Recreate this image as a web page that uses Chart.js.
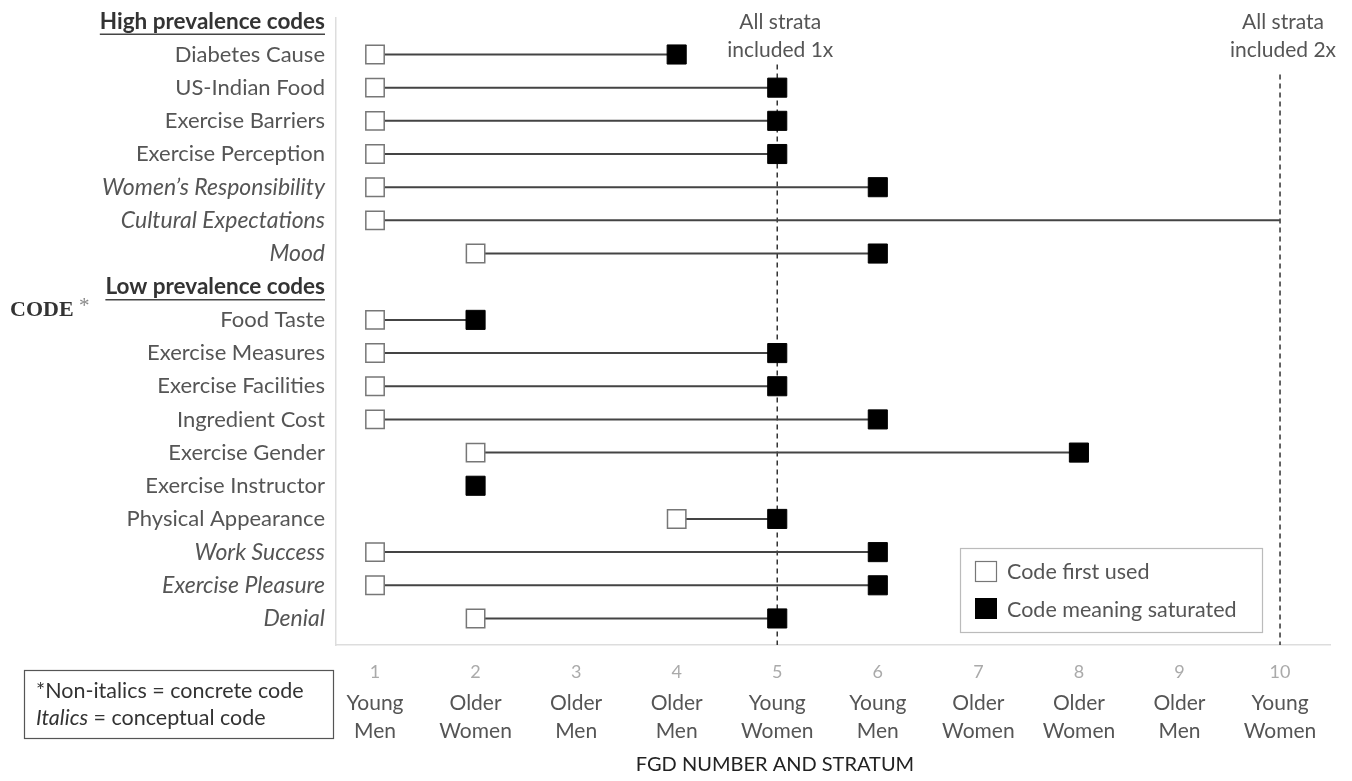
<!DOCTYPE html>
<html>
<head>
<meta charset="utf-8">
<script src="https://cdn.jsdelivr.net/npm/chart.js@4/dist/chart.umd.min.js"></script>
<style>
  body { margin: 0; background: #fff; }
  #wrap { width: 1352px; height: 781px; position: relative; }
</style>
</head>
<body>
<div id="wrap"><canvas id="codeChart"></canvas></div>
<script>
// rows top to bottom (index = y value)
const codes = [
  "High prevalence codes",
  "Diabetes Cause", "US-Indian Food", "Exercise Barriers", "Exercise Perception",
  "Women\u2019s Responsibility", "Cultural Expectations", "Mood",
  "Low prevalence codes",
  "Food Taste", "Exercise Measures", "Exercise Facilities", "Ingredient Cost",
  "Exercise Gender", "Exercise Instructor", "Physical Appearance",
  "Work Success", "Exercise Pleasure", "Denial"
];
const headers = ["High prevalence codes", "Low prevalence codes"];
const conceptual = ["Women\u2019s Responsibility", "Cultural Expectations", "Mood", "Work Success", "Exercise Pleasure", "Denial"];

// FGD where code first used / where meaning saturated (null = none)
const firstUsed = [null, 1, 1, 1, 1, 1, 1, 2, null, 1, 1, 1, 1, 2, null, 4, 1, 1, 2];
const saturated = [null, 4, 5, 5, 5, 6, null, 6, null, 2, 5, 5, 6, 8, 2, 5, 6, 6, 5];

const fgdNumbers = [1, 2, 3, 4, 5, 6, 7, 8, 9, 10];
const strata = [
  ["Young", "Men"], ["Older", "Women"], ["Older", "Men"], ["Older", "Men"], ["Young", "Women"],
  ["Young", "Men"], ["Older", "Women"], ["Older", "Women"], ["Older", "Men"], ["Young", "Women"]
];
const lastFgd = 10;
const refLines = [
  { x: 5, from: 1.3, text: ["All strata", "included 1x"] },
  { x: 10, from: 1.6, text: ["All strata", "included 2x"] }
];

const FONT = "Lato, 'Open Sans', sans-serif";

const firstPts = [], satPts = [], segPts = [];
codes.forEach((c, i) => {
  if (firstUsed[i] != null) {
    firstPts.push({ x: firstUsed[i], y: i });
    segPts.push({ x: firstUsed[i], y: i }, { x: saturated[i] ?? lastFgd, y: i }, { x: NaN, y: NaN });
  }
  if (saturated[i] != null) satPts.push({ x: saturated[i], y: i });
});

const refData = [];
refLines.forEach(r => refData.push({ x: r.x, y: r.from }, { x: r.x, y: 18.8 }, { x: NaN, y: NaN }));

function labelFont(c) {
  const name = c && c.tick ? codes[c.tick.value] : "";
  if (headers.includes(name)) return { family: FONT, size: 22.5, weight: "bold" };
  if (conceptual.includes(name)) return { family: FONT, size: 23, style: "italic" };
  return { family: FONT, size: 22 };
}

const extras = {
  id: "extras",
  afterDraw(chart) {
    const ctx = chart.ctx;
    const xs = chart.scales.x, ys = chart.scales.y;
    ctx.save();
    ctx.textBaseline = "middle";

    // underline headers
    ctx.font = "bold 22.5px " + FONT;
    ctx.strokeStyle = "#444";
    ctx.lineWidth = 1.4;
    headers.forEach(h => {
      const y = ys.getPixelForValue(codes.indexOf(h)) + 13;
      const right = chart.chartArea.left - 11;
      const w = ctx.measureText(h).width;
      ctx.beginPath(); ctx.moveTo(right - w, y); ctx.lineTo(right, y); ctx.stroke();
    });

    // strata under x ticks
    ctx.fillStyle = "#555";
    ctx.font = "21px " + FONT;
    ctx.textAlign = "center";
    fgdNumbers.forEach((n, k) => {
      const px = xs.getPixelForValue(n);
      ctx.fillText(strata[k][0], px, 703);
      ctx.fillText(strata[k][1], px, 731);
    });

    // axis title
    ctx.fillStyle = "#222";
    ctx.font = "20px " + FONT;
    ctx.fillText("FGD NUMBER AND STRATUM", 775, 765);

    // reference line labels
    ctx.fillStyle = "#555";
    ctx.font = "21px " + FONT;
    refLines.forEach(r => {
      const px = xs.getPixelForValue(r.x) + 3;
      ctx.fillText(r.text[0], px, 22);
      ctx.fillText(r.text[1], px, 50);
    });

    // CODE *
    ctx.textAlign = "left";
    ctx.fillStyle = "#333";
    ctx.font = "bold 22px 'Liberation Serif', serif";
    ctx.fillText("CODE", 10, 310);
    const cw = ctx.measureText("CODE ").width;
    ctx.fillStyle = "#888";
    ctx.font = "21px 'Liberation Serif', serif";
    ctx.fillText("*", 10 + cw, 306);

    // footnote box
    ctx.strokeStyle = "#555";
    ctx.lineWidth = 1.2;
    ctx.strokeRect(24.5, 670.5, 309, 68);
    ctx.fillStyle = "#333";
    ctx.font = "21.5px " + FONT;
    ctx.fillText("*Non-italics = concrete code", 36, 691);
    ctx.font = "italic 21.5px " + FONT;
    ctx.fillText("Italics", 36, 718);
    const iw = ctx.measureText("Italics").width;
    ctx.font = "21.5px " + FONT;
    ctx.fillText(" = conceptual code", 36 + iw, 718);

    // legend
    ctx.fillStyle = "#fff";
    ctx.fillRect(960, 548, 302, 84);
    ctx.strokeStyle = "#bbb";
    ctx.lineWidth = 1.2;
    ctx.strokeRect(960.5, 548.5, 302, 84);
    ctx.strokeStyle = "#777";
    ctx.strokeRect(975.5, 561.5, 21, 20);
    ctx.fillStyle = "#000";
    ctx.fillRect(975, 598, 22, 21);
    ctx.fillStyle = "#555";
    ctx.font = "21.5px " + FONT;
    ctx.fillText("Code first used", 1007, 572);
    ctx.fillText("Code meaning saturated", 1007, 610);
    ctx.restore();
  }
};

new Chart(document.getElementById("codeChart"), {
  type: "scatter",
  data: {
    datasets: [
      {
        label: "Code meaning saturated",
        data: satPts,
        pointStyle: "rect",
        pointRadius: 13.5,
        backgroundColor: "#000",
        borderColor: "#000",
        borderWidth: 1,
        order: 1
      },
      {
        label: "Code first used",
        data: firstPts,
        pointStyle: "rect",
        pointRadius: 13,
        backgroundColor: "#fff",
        borderColor: "#777",
        borderWidth: 1.5,
        order: 2
      },
      {
        label: "span",
        data: segPts,
        showLine: true,
        spanGaps: false,
        borderColor: "#444",
        borderWidth: 2,
        pointRadius: 0,
        order: 3
      },
      {
        label: "ref",
        data: refData,
        showLine: true,
        spanGaps: false,
        borderColor: "#333",
        borderWidth: 1.5,
        borderDash: [5, 4],
        pointRadius: 0,
        order: 4
      }
    ]
  },
  options: {
    responsive: true,
    maintainAspectRatio: false,
    animation: false,
    layout: { padding: { left: 0, right: 22, top: 18, bottom: 0 } },
    plugins: { legend: { display: false }, tooltip: { enabled: false } },
    scales: {
      x: {
        type: "linear",
        min: 0.612,
        max: 10.497,
        afterBuildTicks: s => { s.ticks = fgdNumbers.map(v => ({ value: v })); },
        afterFit: s => { s.height = 136; s.paddingLeft = 0; s.paddingRight = 0; },
        grid: { display: false, drawTicks: false },
        border: { display: true, color: "#ddd", width: 1.5 },
        ticks: { color: "#aaa", font: { family: FONT, size: 18 }, padding: 16 }
      },
      y: {
        type: "linear",
        reverse: true,
        min: -0.1,
        max: 18.8,
        afterBuildTicks: s => { s.ticks = codes.map((c, i) => ({ value: i })); },
        afterFit: s => { s.width = 336; s.paddingTop = 0; s.paddingBottom = 0; },
        grid: { display: false, drawTicks: false },
        border: { display: true, color: "#ddd", width: 1.5 },
        ticks: {
          padding: 11,
          callback: v => codes[v],
          color: c => (c && c.tick && headers.includes(codes[c.tick.value])) ? "#333" : "#555",
          font: labelFont
        }
      }
    }
  },
  plugins: [extras]
});
</script>
</body>
</html>
